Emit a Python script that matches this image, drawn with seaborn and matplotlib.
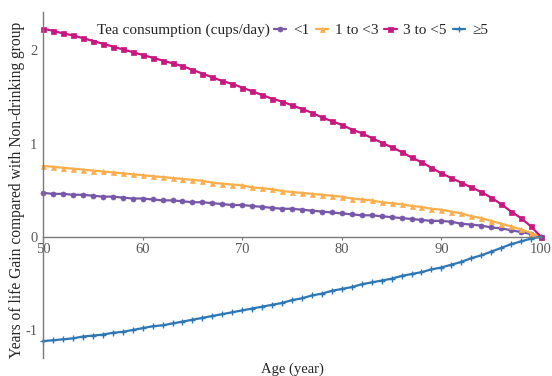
import numpy as np
import pandas as pd
import matplotlib
matplotlib.use("Agg")
import matplotlib.pyplot as plt
import seaborn as sns

ages = list(range(50, 101))

lt1 = [0.47, 0.46, 0.46, 0.45, 0.45, 0.44, 0.43, 0.43, 0.42, 0.41,
       0.41, 0.40, 0.39, 0.39, 0.38, 0.37, 0.37, 0.36, 0.35, 0.34,
       0.34, 0.33, 0.32, 0.31, 0.30, 0.30, 0.29, 0.28, 0.27, 0.26,
       0.25, 0.24, 0.23, 0.23, 0.22, 0.21, 0.20, 0.19, 0.18, 0.17,
       0.17, 0.16, 0.14, 0.13, 0.12, 0.10, 0.09, 0.07, 0.05, 0.03, 0.0]
one_to_3 = [0.76, 0.75, 0.74, 0.73, 0.72, 0.71, 0.70, 0.69, 0.68, 0.67,
            0.66, 0.65, 0.64, 0.63, 0.62, 0.61, 0.60, 0.58, 0.57, 0.56,
            0.55, 0.53, 0.52, 0.51, 0.49, 0.48, 0.47, 0.46, 0.45, 0.44,
            0.43, 0.41, 0.40, 0.39, 0.37, 0.36, 0.35, 0.33, 0.32, 0.30,
            0.29, 0.27, 0.25, 0.22, 0.20, 0.17, 0.14, 0.11, 0.08, 0.04, 0.0]
three_to_5 = [2.23, 2.21, 2.18, 2.16, 2.13, 2.10, 2.07, 2.04, 2.01, 1.98,
              1.95, 1.92, 1.89, 1.86, 1.83, 1.79, 1.75, 1.71, 1.67, 1.64,
              1.60, 1.56, 1.52, 1.48, 1.45, 1.41, 1.37, 1.33, 1.28, 1.24,
              1.20, 1.15, 1.11, 1.06, 1.01, 0.96, 0.91, 0.85, 0.80, 0.74,
              0.68, 0.63, 0.58, 0.53, 0.48, 0.42, 0.35, 0.27, 0.20, 0.11, 0.0]
ge5 = [-1.12, -1.11, -1.10, -1.09, -1.07, -1.06, -1.05, -1.03, -1.02, -1.00,
       -0.98, -0.96, -0.95, -0.93, -0.91, -0.89, -0.87, -0.85, -0.83, -0.81,
       -0.79, -0.77, -0.75, -0.73, -0.71, -0.68, -0.66, -0.63, -0.61, -0.58,
       -0.56, -0.54, -0.51, -0.49, -0.47, -0.45, -0.42, -0.40, -0.38, -0.35,
       -0.33, -0.30, -0.27, -0.23, -0.20, -0.16, -0.12, -0.08, -0.05, -0.02, 0.0]

groups = ["<1", "1 to <3", "3 to <5", "\u22655"]
series = [lt1, one_to_3, three_to_5, ge5]
colors = ["#7758A8", "#FBAE4C", "#C8177E", "#2E77B5"]
markers = ["o", "^", "s", "+"]

df = pd.DataFrame({
    "age": ages * len(groups),
    "gain": [v for s in series for v in s],
    "group": [g for g in groups for _ in ages],
})

sns.set_style("ticks")
plt.rcParams["font.family"] = ["Liberation Serif", "DejaVu Serif"]
plt.rcParams["axes.unicode_minus"] = False

fig = plt.figure(figsize=(5.52, 3.76), dpi=100)
ax = fig.add_axes([0.078, 0.048, 0.902, 0.92])

for g, c, m in zip(groups, colors, markers):
    sub = df[df["group"] == g]
    sns.lineplot(data=sub, x="age", y="gain", ax=ax, color=c, marker=m,
                 markersize=4.5 if m == "+" else 3.6, markeredgewidth=1.0 if m == "+" else 0.5,
                 markeredgecolor=c, linewidth=1.6, label=g, clip_on=False)

ax.set_xlim(50, 100)
ax.set_ylim(-1.30, 2.41)
ax.set_xticks([50, 60, 70, 80, 90, 100])
ax.set_yticks([-1, 0, 1, 2])
ax.spines["top"].set_visible(False)
ax.spines["right"].set_visible(False)
ax.spines["bottom"].set_position(("data", 0))
for s in ["left", "bottom"]:
    ax.spines[s].set_color("#7a7a7a")
    ax.spines[s].set_linewidth(1.0)
ax.tick_params(axis="x", length=2.5, width=0.8, color="#7a7a7a", labelsize=10.5,
               labelcolor="#5a5a5a", pad=2)
ax.tick_params(axis="y", length=0, labelsize=10.5, labelcolor="#5a5a5a", pad=4)

ax.set_xlabel("Age (year)", fontsize=10.5)
ax.xaxis.set_label_coords(0.5, -0.012)
ax.set_ylabel("Years of life Gain compared with Non-drinking group", fontsize=11.2)
ax.yaxis.set_label_coords(-0.036, 0.486)

# legend title sits inline to the left of the entries
ax.text(0.108, 0.948, "Tea consumption (cups/day)", transform=ax.transAxes,
        fontsize=11, ha="left", va="center", zorder=10,
        bbox=dict(facecolor="white", edgecolor="none", pad=2.5))

handles, labels = ax.get_legend_handles_labels()
leg = ax.legend(handles, labels, ncol=4, loc="center left",
                bbox_to_anchor=(0.458, 0.948), frameon=False, fontsize=11,
                handlelength=0.8, handletextpad=0.45, columnspacing=0.4,
                borderpad=0.2, borderaxespad=0)
leg.set_zorder(10)

fig.savefig("out.png", dpi=100)
